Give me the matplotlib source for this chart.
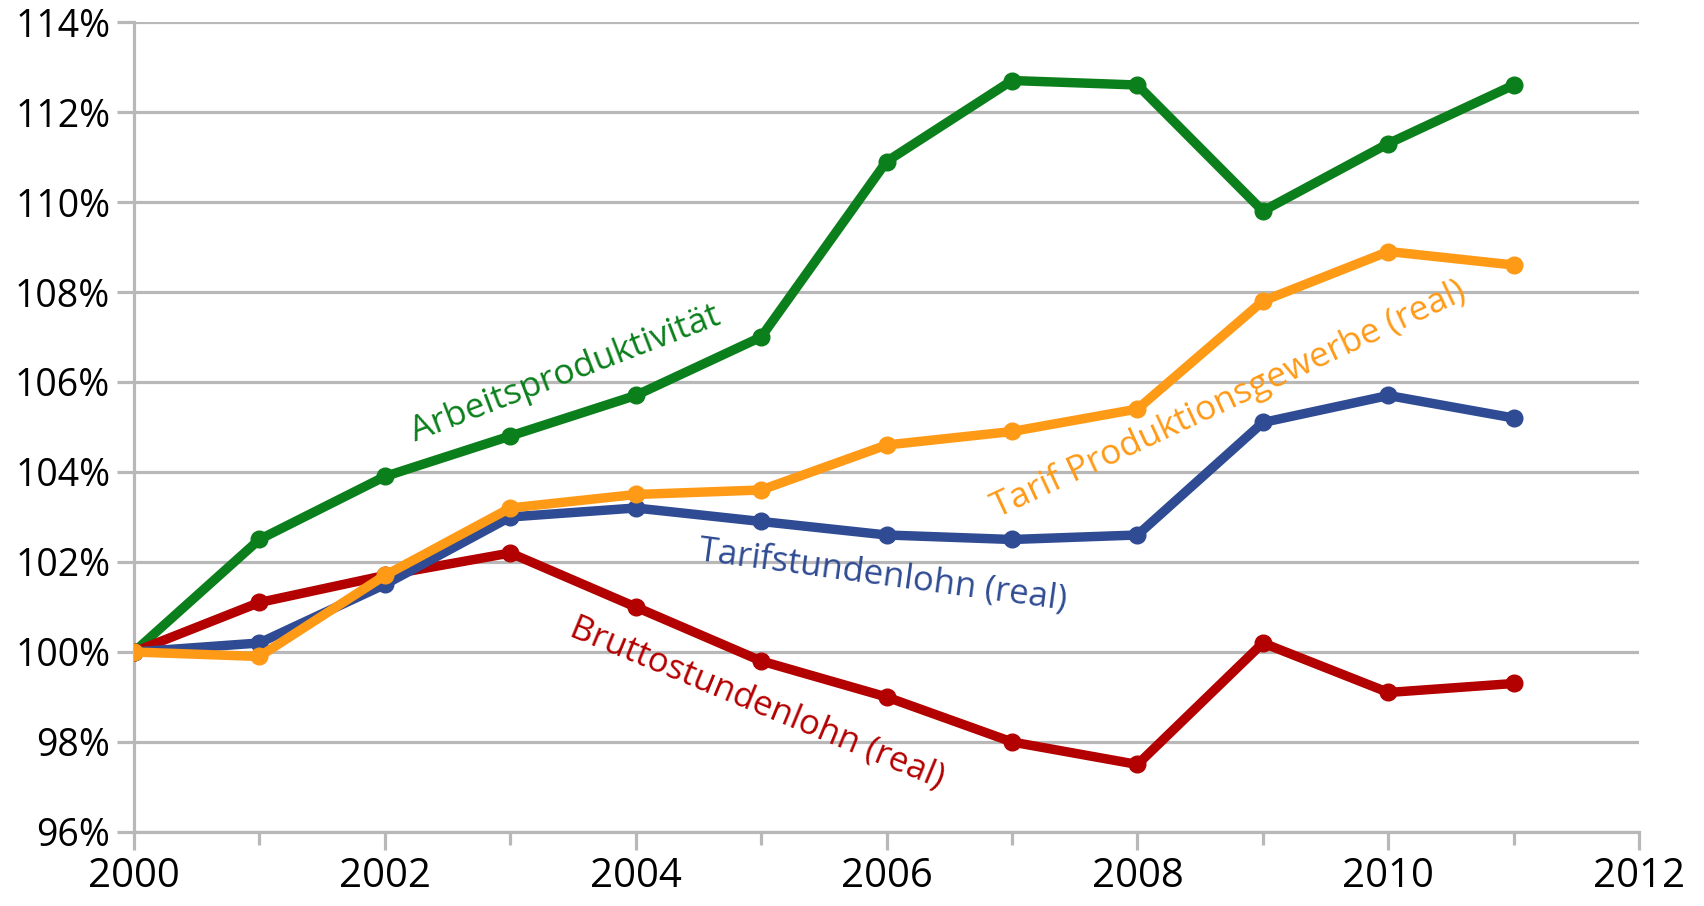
import matplotlib
matplotlib.use("Agg")
import matplotlib.pyplot as plt
from matplotlib.ticker import MultipleLocator, FuncFormatter

plt.rcParams['font.family'] = ['Open Sans', 'DejaVu Sans']

years = [2000, 2001, 2002, 2003, 2004, 2005, 2006, 2007, 2008, 2009, 2010, 2011]
arbeitsproduktivitaet = [100.0, 102.5, 103.9, 104.8, 105.7, 107.0, 110.9, 112.7, 112.6, 109.8, 111.3, 112.6]
bruttostundenlohn = [100.0, 101.1, 101.7, 102.2, 101.0, 99.8, 99.0, 98.0, 97.5, 100.2, 99.1, 99.3]
tarifstundenlohn = [100.0, 100.2, 101.5, 103.0, 103.2, 102.9, 102.6, 102.5, 102.6, 105.1, 105.7, 105.2]
tarif_produktion = [100.0, 99.9, 101.7, 103.2, 103.5, 103.6, 104.6, 104.9, 105.4, 107.8, 108.9, 108.6]

green = '#0b7f1c'
red = '#b30000'
blue = '#2f4b93'
orange = '#ff9a17'
gridc = '#b8b8b8'

fig = plt.figure(figsize=(17.04, 9.06), dpi=100)
ax = fig.add_axes([0.0786, 0.0817, 0.8834, 0.894])

for vals, col in [(arbeitsproduktivitaet, green), (bruttostundenlohn, red),
                  (tarifstundenlohn, blue), (tarif_produktion, orange)]:
    ax.plot(years, vals, color=col, lw=6.8, marker='o', ms=12, zorder=3)

ax.set_xlim(2000, 2012)
ax.set_ylim(96, 114)
ax.xaxis.set_major_locator(MultipleLocator(2))
ax.xaxis.set_minor_locator(MultipleLocator(1))
ax.yaxis.set_major_locator(MultipleLocator(2))
ax.yaxis.set_major_formatter(FuncFormatter(lambda v, p: '%d%%' % round(v)))

ax.grid(axis='y', color=gridc, lw=2.3, zorder=1)
for s in ['top', 'right']:
    ax.spines[s].set_visible(False)
for s in ['left', 'bottom']:
    ax.spines[s].set_color(gridc)
    ax.spines[s].set_linewidth(2.3)
ax.spines['bottom'].set_zorder(1)

ax.tick_params(axis='y', length=12, width=2.3, color=gridc, labelsize=27, pad=5)
ax.tick_params(axis='x', which='major', length=13, width=2.3, color=gridc, labelsize=29, pad=5)
ax.tick_params(axis='x', which='minor', length=9, width=2.3, color=gridc)

ax.text(2003.44, 106.18, 'Arbeitsproduktivität', color=green, fontsize=25.5,
        rotation=21, ha='center', va='center', rotation_mode='anchor')
ax.text(2008.73, 105.62, 'Tarif Produktionsgewerbe (real)', color=orange, fontsize=25.5,
        rotation=25, ha='center', va='center', rotation_mode='anchor')
ax.text(2005.97, 101.71, 'Tarifstundenlohn (real)', color=blue, fontsize=25,
        rotation=-7.7, ha='center', va='center', rotation_mode='anchor')
ax.text(2004.97, 98.87, 'Bruttostundenlohn (real)', color=red, fontsize=25,
        rotation=-22.4, ha='center', va='center', rotation_mode='anchor')

plt.savefig('out.png', dpi=100)
